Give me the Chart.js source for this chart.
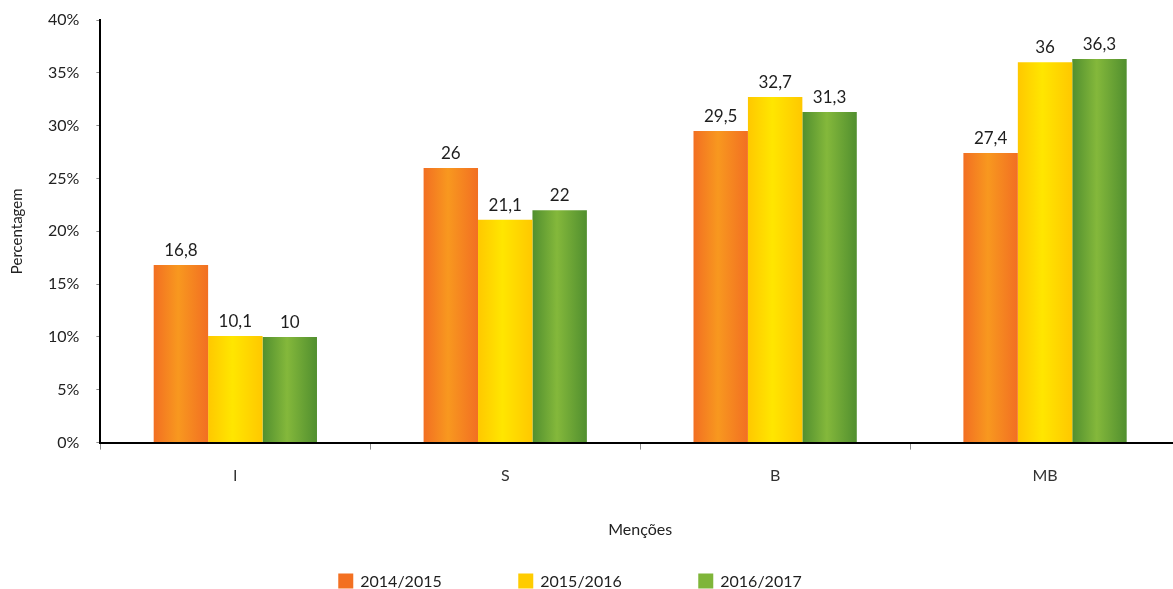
<!DOCTYPE html>
<html>
<head>
<meta charset="utf-8">
<script src="https://cdn.jsdelivr.net/npm/chart.js@4.4.1/dist/chart.umd.min.js"></script>
<style>
  html, body { margin: 0; padding: 0; background: #fff; overflow: hidden; }
  canvas { display: block; }
</style>
</head>
<body>
<canvas id="chart" width="1182" height="589"></canvas>
<script>
const categories = ['I', 'S', 'B', 'MB'];
const seriesLabels = ['2014/2015', '2015/2016', '2016/2017'];
const values1415 = [16.8, 26, 29.5, 27.4];
const values1516 = [10.1, 21.1, 32.7, 36];
const values1617 = [10, 22, 31.3, 36.3];
const yTickStep = 5;
const yMax = 40;

const FONT = 'Lato, "Open Sans", sans-serif';
// edge / centre colours of the bar gradients, plus the flat legend colour
const palette = [
  { edge: '#f26f22', mid: '#f8981f', legend: '#f37021' },
  { edge: '#ffc800', mid: '#ffe600', legend: '#ffcc00' },
  { edge: '#518f2f', mid: '#84b83b', legend: '#7fb539' },
];

const fmt = v => String(v).replace('.', ',');

const barGradient = {
  id: 'barGradient',
  beforeDatasetDraw(chart, args) {
    const ctx = chart.ctx;
    const p = palette[args.index];
    args.meta.data.forEach(bar => {
      const { x, width } = bar.getProps(['x', 'width'], true);
      const g = ctx.createLinearGradient(x - width / 2, 0, x + width / 2, 0);
      g.addColorStop(0, p.edge);
      g.addColorStop(0.45, p.mid);
      g.addColorStop(1, p.edge);
      bar.options = Object.assign({}, bar.options, { backgroundColor: g });
    });
  }
};

const valueLabels = {
  id: 'valueLabels',
  afterDatasetsDraw(chart) {
    const ctx = chart.ctx;
    ctx.save();
    ctx.font = '17px ' + FONT;
    ctx.fillStyle = '#1e1e1e';
    ctx.textAlign = 'center';
    ctx.textBaseline = 'alphabetic';
    chart.data.datasets.forEach((ds, i) => {
      chart.getDatasetMeta(i).data.forEach((bar, j) => {
        ctx.fillText(fmt(ds.data[j]), bar.x, bar.y - 9);
      });
    });
    ctx.restore();
  }
};

const bottomLegend = {
  id: 'bottomLegend',
  afterDraw(chart) {
    const ctx = chart.ctx;
    const stride = 180, box = 15, gap = 7;
    const centre = 570, y = 581;
    const n = chart.data.datasets.length;
    ctx.save();
    ctx.font = '16px ' + FONT;
    ctx.textBaseline = 'middle';
    ctx.textAlign = 'left';
    const lastW = box + gap + ctx.measureText(chart.data.datasets[n - 1].label).width;
    const total = stride * (n - 1) + lastW;
    let x = centre - total / 2;
    chart.data.datasets.forEach((ds, i) => {
      ctx.fillStyle = palette[i].legend;
      ctx.fillRect(x, y - box / 2, box, box);
      ctx.fillStyle = '#1e1e1e';
      ctx.fillText(ds.label, x + box + gap, y + 1);
      x += stride;
    });
    ctx.restore();
  }
};

new Chart(document.getElementById('chart'), {
  type: 'bar',
  data: {
    labels: categories,
    datasets: [
      { label: seriesLabels[0], data: values1415 },
      { label: seriesLabels[1], data: values1516 },
      { label: seriesLabels[2], data: values1617 },
    ],
  },
  options: {
    responsive: false,
    animation: false,
    events: [],
    categoryPercentage: 0.605,
    barPercentage: 1,
    layout: { padding: { top: 0, right: 2, bottom: 50, left: 0 } },
    plugins: { legend: { display: false }, tooltip: { enabled: false } },
    scales: {
      x: {
        grid: { drawOnChartArea: false, offset: true, tickLength: 7, color: '#8c8c8c', tickWidth: 1 },
        border: { color: '#000', width: 2 },
        ticks: { padding: 17, color: '#333', font: { family: FONT, size: 16 } },
        title: { display: true, text: 'Menções', color: '#222', font: { family: FONT, size: 16 }, padding: { top: 17, bottom: 0 } },
      },
      y: {
        min: 0,
        max: yMax,
        afterFit: s => { s.paddingTop = 20; },
        grid: { drawOnChartArea: false, tickLength: 4, color: '#8c8c8c' },
        border: { color: '#000', width: 2 },
        ticks: { stepSize: yTickStep, padding: 17, color: '#222', font: { family: FONT, size: 16 }, callback: v => v + '%' },
        title: { display: true, text: 'Percentagem', color: '#222', font: { family: FONT, size: 15 }, padding: { top: 8, bottom: 5 } },
      },
    },
  },
  plugins: [barGradient, valueLabels, bottomLegend],
});
</script>
</body>
</html>
